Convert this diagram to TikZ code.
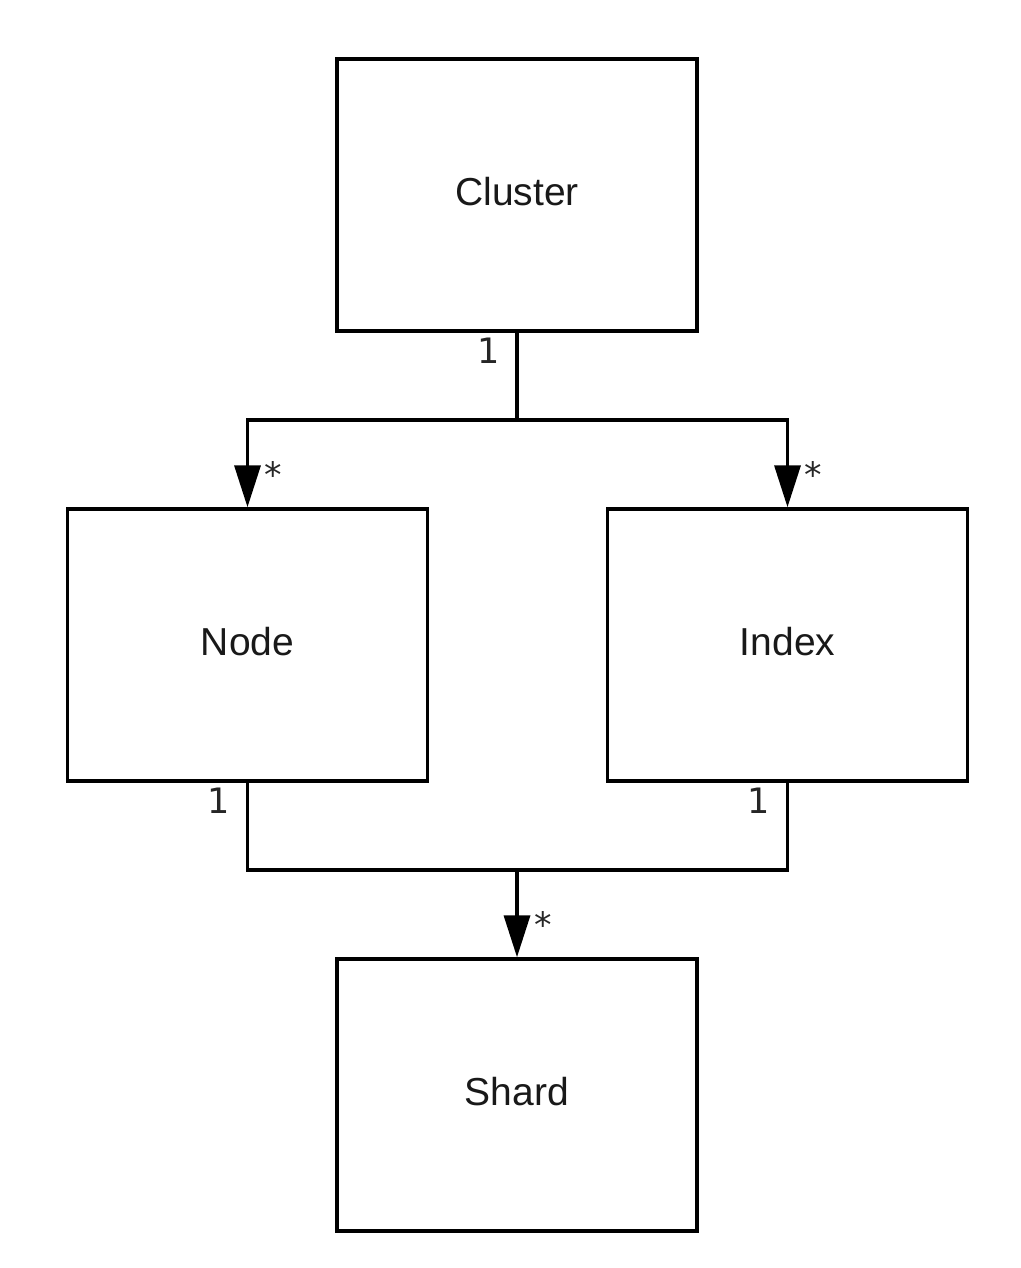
\documentclass[tikz,border=0pt]{standalone}
\usepackage{fontspec}
\setmainfont{Liberation Sans}
\newfontfamily\lblfont{DejaVu Sans}
\usetikzlibrary{arrows.meta}
\begin{document}
\begin{tikzpicture}[x=1pt,y=-1pt,
  entity/.style={draw=black, line width=3.5pt, minimum width=360pt, minimum height=272pt, inner sep=0pt, text depth=8pt, font=\fontsize{39}{41}\selectfont, text=black!90},
  conn/.style={draw=black, line width=3.5pt},
  arr/.style={conn, -{Triangle[length=42pt,width=26pt]}},
  mult/.style={font=\lblfont\fontsize{35}{37}\selectfont, inner sep=0pt, text=black!85}]
\useasboundingbox (0,0) rectangle (1020,1268);
\node[entity] (cluster) at (517,195) {Cluster};
\node[entity] (node) at (247.5,645) {Node};
\node[entity] (index) at (787.5,645) {Index};
\node[entity] (shard) at (517,1095) {Shard};
\coordinate (j1) at (517,420);
\coordinate (j2) at (517,870);
\draw[conn] (cluster.south) -- (j1);
\draw[arr] (j1) -| (node.north);
\draw[arr] (j1) -| (index.north);
\draw[conn] (node.south) |- (j2);
\draw[conn] (index.south) |- (j2);
\draw[arr] (j2) -- (shard.north);
\node[mult] (m1) at (489,351) {1};
\node[mult] (m2) at (273,475) {*};
\node[mult] (m3) at (813,475) {*};
\node[mult] (m4) at (219,801) {1};
\node[mult] (m5) at (759,801) {1};
\node[mult] (m6) at (543,925) {*};
\end{tikzpicture}
\end{document}
